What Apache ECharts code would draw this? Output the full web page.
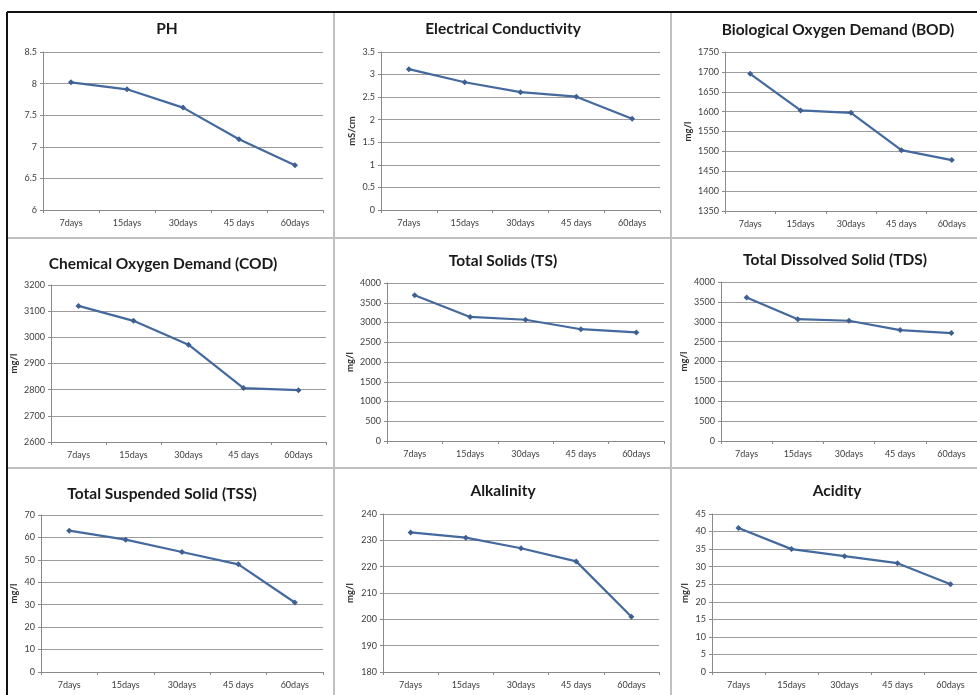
<!DOCTYPE html>
<html>
<head>
<meta charset="utf-8">
<script src="https://cdn.jsdelivr.net/npm/echarts@6/dist/echarts.min.js"></script>
<style>
  html, body { margin: 0; padding: 0; background: #fff; }
  #chart { width: 977px; height: 695px; }
</style>
</head>
<body>
<div id="chart"></div>
<script>
// ---- data ----
const categories = ['7days', '15days', '30days', '45 days', '60days'];
const chartTitles = ['PH', 'Electrical Conductivity', 'Biological Oxygen Demand (BOD)',
  'Chemical Oxygen Demand (COD)', 'Total Solids (TS)', 'Total Dissolved Solid (TDS)',
  'Total Suspended Solid (TSS)', 'Alkalinity', 'Acidity'];
const unitNames = ['', 'mS/cm', 'mg/l', 'mg/l', 'mg/l', 'mg/l', 'mg/l', 'mg/l', 'mg/l'];
const phValues = [8.02, 7.91, 7.62, 7.12, 6.71];
const ecValues = [3.12, 2.83, 2.61, 2.51, 2.02];
const bodValues = [1695, 1603, 1597, 1503, 1478];
const codValues = [3120, 3063, 2972, 2806, 2798];
const tsValues = [3690, 3140, 3070, 2830, 2750];
const tdsValues = [3610, 3065, 3025, 2790, 2715];
const tssValues = [63, 59, 53.5, 48, 31];
const alkValues = [233, 231, 227, 222, 201];
const acidValues = [41, 35, 33, 31, 25];
const yMins = [6, 0, 1350, 2600, 0, 0, 0, 180, 0];
const yMaxs = [8.5, 3.5, 1750, 3200, 4000, 4000, 70, 240, 45];
const yIntervals = [0.5, 0.5, 50, 100, 500, 500, 10, 10, 5];

const allValues = [phValues, ecValues, bodValues, codValues, tsValues, tdsValues, tssValues, alkValues, acidValues];

// ---- layout (px) ----
const gridBoxes = [
  { left: 43, top: 52, width: 280, height: 158 },
  { left: 381, top: 52, width: 279, height: 158 },
  { left: 725, top: 52, width: 269, height: 159 },
  { left: 51, top: 285, width: 275, height: 157 },
  { left: 387, top: 283, width: 277, height: 158 },
  { left: 721, top: 282, width: 273, height: 159 },
  { left: 41, top: 515, width: 282, height: 157 },
  { left: 383, top: 514, width: 276, height: 158 },
  { left: 712, top: 514, width: 282, height: 158 }
];
const titlePos = [
  [167, 27], [503, 27], [838, 28],
  [163, 262], [503, 259], [835, 258],
  [162, 492], [503, 489], [837, 489]
];
const nameGaps = [0, 24, 32, 32, 32, 32, 22, 28, 22];

const FONT = 'Lato';
const LINE = '#44699e';

const titles = [], grids = [], xAxes = [], yAxes = [], series = [];
for (let i = 0; i < 9; i++) {
  titles.push({
    text: chartTitles[i],
    left: titlePos[i][0],
    top: titlePos[i][1] - 6,
    textAlign: 'center',
    padding: 0,
    textStyle: { fontFamily: FONT, fontWeight: 'bold', fontSize: 15.5, color: '#1a1a1a' }
  });
  grids.push(Object.assign({ containLabel: false }, gridBoxes[i]));
  xAxes.push({
    type: 'category',
    gridIndex: i,
    data: categories,
    boundaryGap: true,
    axisLine: { lineStyle: { color: '#8a8a8a', width: 1 } },
    axisTick: { show: true, length: 3, lineStyle: { color: '#8a8a8a' } },
    axisLabel: { fontFamily: FONT, fontSize: 9, color: '#404040', margin: 9 },
    splitLine: { show: false }
  });
  yAxes.push({
    type: 'value',
    gridIndex: i,
    min: yMins[i],
    max: yMaxs[i],
    interval: yIntervals[i],
    name: unitNames[i],
    nameLocation: 'middle',
    nameGap: nameGaps[i],
    nameTextStyle: { fontFamily: FONT, fontSize: 9.5, fontWeight: 'bold', color: '#303030' },
    axisLine: { show: true, lineStyle: { color: '#8a8a8a', width: 1 } },
    axisTick: { show: true, length: 3, lineStyle: { color: '#8a8a8a' } },
    axisLabel: { fontFamily: FONT, fontSize: 9, color: '#404040', margin: 6, formatter: v => String(v) },
    splitLine: { show: true, lineStyle: { color: '#9c9c9c', width: 1 } }
  });
  series.push({
    type: 'line',
    xAxisIndex: i,
    yAxisIndex: i,
    data: allValues[i],
    symbol: 'diamond',
    symbolSize: 6,
    lineStyle: { color: LINE, width: 2.2 },
    itemStyle: { color: '#3d5f92' },
    animation: false
  });
}

const frame = [
  { type: 'line', shape: { x1: 7, y1: 12, x2: 977, y2: 12 }, style: { stroke: '#111', lineWidth: 2 } },
  { type: 'line', shape: { x1: 7, y1: 12, x2: 7, y2: 695 }, style: { stroke: '#111', lineWidth: 2 } },
  { type: 'line', shape: { x1: 334, y1: 13, x2: 334, y2: 695 }, style: { stroke: '#c0c0c0', lineWidth: 2 } },
  { type: 'line', shape: { x1: 671, y1: 13, x2: 671, y2: 695 }, style: { stroke: '#c0c0c0', lineWidth: 2 } },
  { type: 'line', shape: { x1: 8, y1: 238, x2: 977, y2: 238 }, style: { stroke: '#c0c0c0', lineWidth: 2 } },
  { type: 'line', shape: { x1: 8, y1: 468, x2: 977, y2: 468 }, style: { stroke: '#c0c0c0', lineWidth: 2 } }
].map(g => Object.assign({ silent: true, z: -1 }, g));

const chart = echarts.init(document.getElementById('chart'), null, { renderer: 'canvas' });
chart.setOption({
  backgroundColor: '#ffffff',
  animation: false,
  title: titles,
  grid: grids,
  xAxis: xAxes,
  yAxis: yAxes,
  series: series,
  graphic: frame
});
</script>
</body>
</html>
